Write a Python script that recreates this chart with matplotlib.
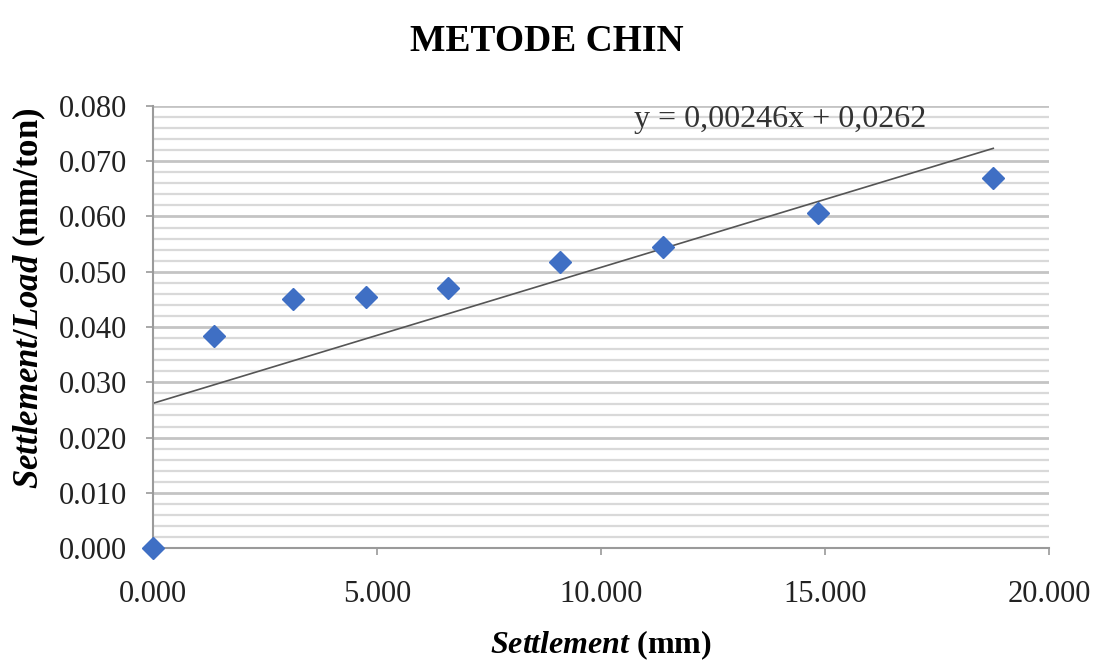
import matplotlib
matplotlib.use("Agg")
from matplotlib import pyplot as plt
import matplotlib.ticker as ticker
import numpy

plt.rcParams['font.family'] = 'Liberation Serif'
plt.rcParams['mathtext.fontset'] = 'custom'
plt.rcParams['mathtext.it'] = 'Liberation Serif:italic:bold'
plt.rcParams['mathtext.rm'] = 'Liberation Serif:bold'

# data
settlement = [0.0, 1.36, 3.12, 4.75, 6.58, 9.08, 11.38, 14.84, 18.75]
ratio = [0.0, 0.0384, 0.0451, 0.0454, 0.0471, 0.0518, 0.0545, 0.0606, 0.0670]
slope = 0.00246
intercept = 0.0262

fig = plt.figure(figsize=(11.01, 6.62), dpi=100)
ax = fig.add_axes([0.139, 0.172, 0.814, 0.668])

# gridlines
ax.yaxis.set_major_locator(ticker.MultipleLocator(0.010))
ax.yaxis.set_minor_locator(ticker.MultipleLocator(0.002))
ax.grid(which='major', axis='y', color='#c4c4c4', lw=2.0)
ax.grid(which='minor', axis='y', color='#d9d9d9', lw=1.6)
ax.set_axisbelow(True)

# trendline
xt = numpy.array([0.0, max(settlement)])
ax.plot(xt, slope * xt + intercept, color='#555555', lw=1.2)

ax.plot(settlement, ratio, linestyle='none', marker='D', markersize=11,
        color='#3f6fc4', markeredgecolor='#3f6fc4', zorder=3, clip_on=False)

ax.text(14.0, 0.0775, "y = 0,00246x + 0,0262", fontsize=23, color='#333333',
        ha='center', va='center')

ax.set_xlim(0, 20)
ax.set_ylim(0, 0.080)
ax.xaxis.set_major_locator(ticker.MultipleLocator(5))
ax.xaxis.set_major_formatter(ticker.FuncFormatter(lambda v, p: "%.3f" % v))
ax.yaxis.set_major_formatter(ticker.FuncFormatter(lambda v, p: "%.3f" % v))

for s in ['top', 'right']:
    ax.spines[s].set_visible(False)
for s in ['left', 'bottom']:
    ax.spines[s].set_color('#9a9a9a')
    ax.spines[s].set_linewidth(1.5)
ax.tick_params(which='major', length=5, width=1.2, color='#9a9a9a',
               labelsize=22, labelcolor='#222222')
ax.tick_params(which='minor', length=0)
ax.tick_params(axis='y', pad=14)
ax.tick_params(axis='x', pad=18)

ax.set_xlabel(r"$\mathit{Settlement}$ (mm)", fontsize=23, fontweight='bold')
ax.set_ylabel(r"$\mathit{Settlement/Load}$ (mm/ton)", fontsize=25, fontweight='bold')
ax.yaxis.set_label_coords(-0.117, 0.566)
ax.xaxis.set_label_coords(0.5, -0.182)

fig.suptitle("METODE CHIN", fontsize=27, fontweight='bold', x=0.497, y=0.963)

fig.savefig("out.png", dpi=100)
